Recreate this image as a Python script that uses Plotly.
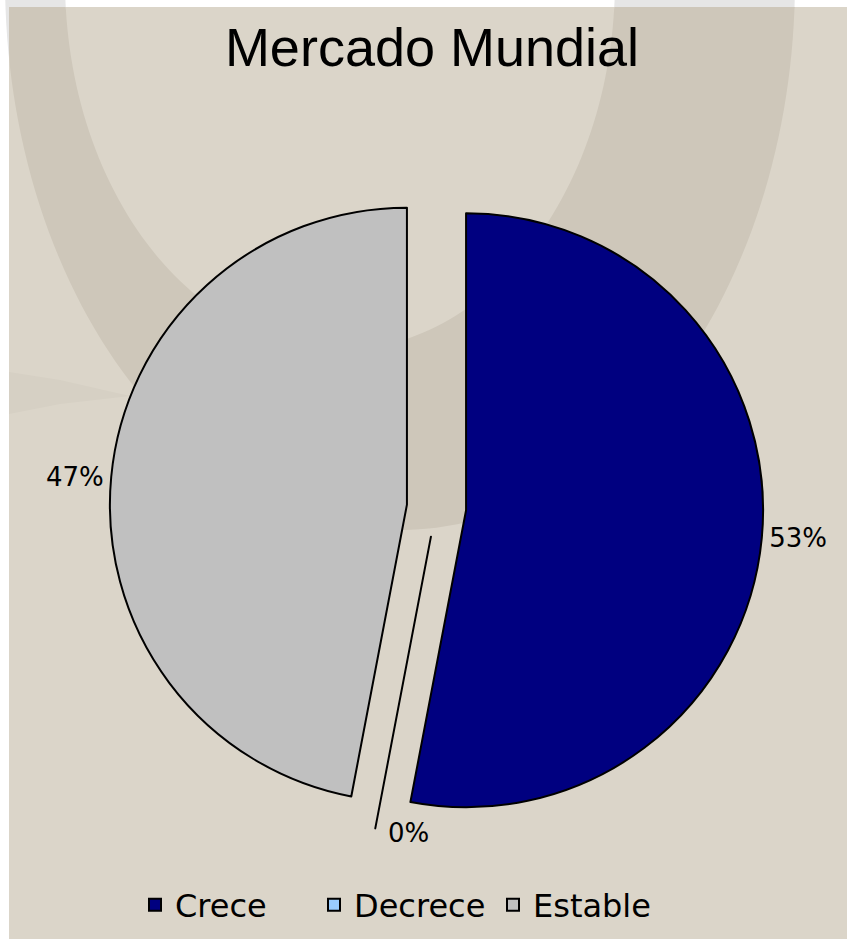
import numpy as np
import plotly.graph_objects as go

W, H = 847, 939

categories = ["Crece", "Decrece", "Estable"]
shares = [53, 0, 47]
colors = ["#000080", "#99ccff", "#c0c0c0"]

PULL = 0.1
PIE_DOMAIN = dict(x=[0.1296, 0.9011], y=[0.1116, 0.8075])


def px_to_paper(xs, ys):
    return np.asarray(xs) / W, 1 - np.asarray(ys) / H


def ring_path(outer, inner, clip=None, n=120):
    """Closed band between two half-ellipses hanging from the top edge."""
    (ocx, ocy, oa, ob), (icx, icy, ia, ib) = outer, inner
    t = np.linspace(np.pi, 0, n)
    ox = ocx + oa * np.cos(t)
    oy = ocy + ob * np.sin(t)
    t2 = np.linspace(0, np.pi, n)
    ix = icx + ia * np.cos(t2)
    iy = icy + ib * np.sin(t2)
    xs = np.concatenate([ox, ix])
    ys = np.concatenate([oy, iy])
    if clip is not None:
        x0, y0, x1, y1 = clip
        xs = np.clip(xs, x0, x1)
        ys = np.clip(ys, y0, y1)
    px, py = px_to_paper(xs, ys)
    pts = [f"{a:.5f},{b:.5f}" for a, b in zip(px, py)]
    return "M" + " L".join(pts) + " Z"


def poly_path(points):
    px, py = px_to_paper([p[0] for p in points], [p[1] for p in points])
    return "M" + " L".join(f"{a:.5f},{b:.5f}" for a, b in zip(px, py)) + " Z"


outer_ellipse = (400, -20, 395, 550)
inner_ellipse = (340, -20, 275, 370)

shapes = [
    # light grey band visible in the white frame
    dict(type="path", xref="paper", yref="paper", layer="below",
         path=ring_path(outer_ellipse, inner_ellipse, clip=(-5, -40, W + 5, H + 5)),
         fillcolor="#e6e6e6", line=dict(width=0)),
    # beige card
    dict(type="rect", xref="paper", yref="paper", layer="below",
         x0=9 / W, x1=1, y0=0, y1=1 - 7 / H,
         fillcolor="#dbd5c9", line=dict(width=0)),
    # darker band on the card
    dict(type="path", xref="paper", yref="paper", layer="below",
         path=ring_path(outer_ellipse, inner_ellipse, clip=(9, 7, W, H)),
         fillcolor="#cec7ba", line=dict(width=0)),
    # faint petal on the left edge
    dict(type="path", xref="paper", yref="paper", layer="below",
         path=poly_path([(9, 372), (60, 380), (130, 396), (60, 404), (9, 414)]),
         fillcolor="#d6d0c4", line=dict(width=0)),
]

# Labels for empty slices are placed at the outer end of their radius line
total = sum(shares)
cx = W * (PIE_DOMAIN["x"][0] + PIE_DOMAIN["x"][1]) / 2
cy = H * (1 - (PIE_DOMAIN["y"][0] + PIE_DOMAIN["y"][1]) / 2)
radius = min(W * (PIE_DOMAIN["x"][1] - PIE_DOMAIN["x"][0]),
             H * (PIE_DOMAIN["y"][1] - PIE_DOMAIN["y"][0])) / (2 + 2 * PULL)

annotations = []
templates = []
cum = 0.0
for v in shares:
    frac = v / total
    if v > 0:
        templates.append("%{percent:.0%}")
    else:
        templates.append("")
        theta = 2 * np.pi * cum
        ex = cx + radius * (1 + PULL) * np.sin(theta)
        ey = cy - radius * (1 + PULL) * np.cos(theta)
        ax, ay = px_to_paper(ex, ey)
        annotations.append(dict(
            x=float(ax), y=float(ay), xref="paper", yref="paper",
            text=f"{frac:.0%}", showarrow=False,
            xanchor="left", yanchor="middle", xshift=11, yshift=-5,
            font=dict(family="DejaVu Sans", size=26, color="black")))
    cum += frac

fig = go.Figure(go.Pie(
    labels=categories,
    values=shares,
    sort=False,
    direction="clockwise",
    rotation=0,
    pull=PULL,
    marker=dict(colors=colors, line=dict(color="black", width=2)),
    texttemplate=templates,
    textposition="outside",
    textfont=dict(family="DejaVu Sans", size=26, color="black"),
    domain=PIE_DOMAIN,
    hoverinfo="label+percent",
))

fig.update_layout(
    width=W, height=H,
    margin=dict(l=0, r=0, t=0, b=0, autoexpand=False),
    paper_bgcolor="white",
    plot_bgcolor="rgba(0,0,0,0)",
    shapes=shapes,
    annotations=annotations,
    title=dict(text="Mercado Mundial", x=432 / W, xanchor="center",
               y=1 - 47 / H, yanchor="middle", yref="container",
               font=dict(family="Liberation Sans", size=54, color="black")),
    legend=dict(orientation="h", x=135 / W, xanchor="left",
                y=1 - 905 / H, yanchor="middle",
                font=dict(family="DejaVu Sans", size=32, color="black"),
                bgcolor="rgba(0,0,0,0)", itemwidth=30, entrywidth=134),
    showlegend=True,
)

fig.write_html("out.html")
